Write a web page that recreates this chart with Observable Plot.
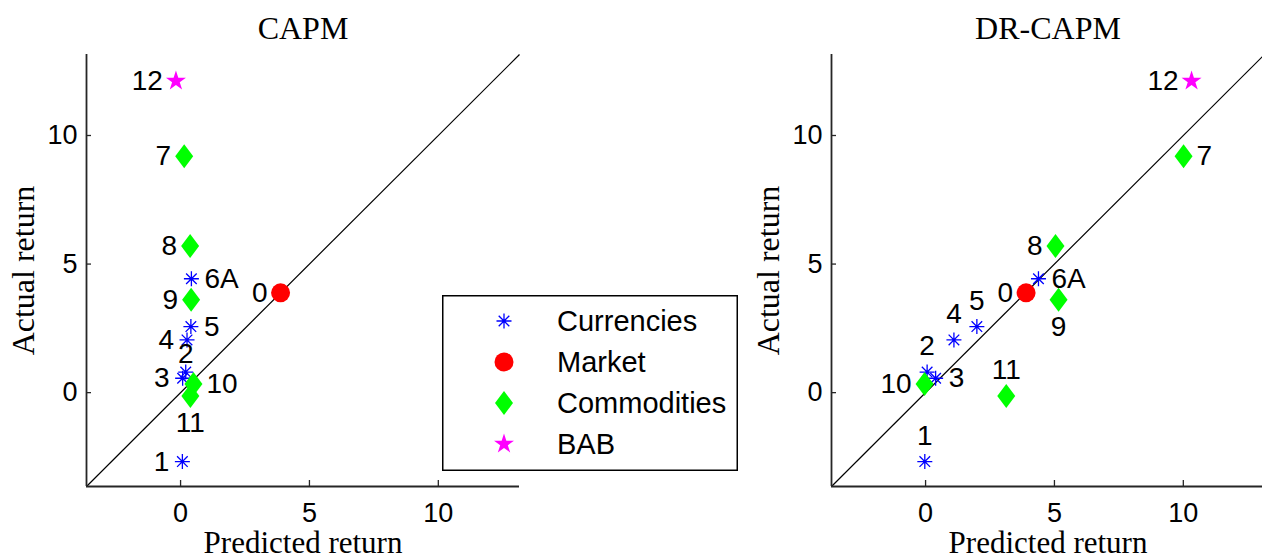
<!DOCTYPE html>
<html><head><meta charset="utf-8">
<script src="https://cdn.jsdelivr.net/npm/d3@7"></script>
<script src="https://cdn.jsdelivr.net/npm/@observablehq/plot@0.6"></script>
<style>
html,body{margin:0;padding:0;background:#fff;overflow:hidden;width:1262px;height:559px;}
#wrap{position:relative;width:1262px;height:559px;overflow:hidden;background:#fff;}
.panel{position:absolute;top:0;}
#legend{position:absolute;left:442px;top:295px;}
</style></head><body><div id="wrap"></div>
<script>
// ---- data ----
const labels = ["0","1","2","3","4","5","6A","7","8","9","10","11","12"];
const groups = ["Market","Currencies","Currencies","Currencies","Currencies","Currencies","Currencies",
                "Commodities","Commodities","Commodities","Commodities","Commodities","BAB"];
const actualReturn = [3.88, -2.68, 0.80, 0.56, 2.05, 2.57, 4.43, 9.19, 5.70, 3.61, 0.34, -0.13, 12.12];
const predictedCAPM = [3.88, 0.07, 0.20, 0.08, 0.25, 0.40, 0.42, 0.14, 0.37, 0.41, 0.50, 0.38, -0.18];
const predictedDR   = [3.90, -0.03, 0.06, 0.39, 1.10, 1.99, 4.38, 10.01, 5.04, 5.16, -0.04, 3.13, 10.32];
const legendOrder = ["Currencies","Market","Commodities","BAB"];
const axisTicks = [0, 5, 10];
const titles = ["CAPM", "DR-CAPM"];
const xLabel = "Predicted return";
const yLabel = "Actual return";

// ---- label placement (style) ----
const placeCAPM = {"0":"left","1":"left","2":"above2","3":"left","4":"left","5":"right","6A":"right",
  "7":"left","8":"left","9":"left","10":"right","11":"below","12":"left"};
const placeDR = {"0":"left","1":"above","2":"above","3":"right","4":"above","5":"above","6A":"right",
  "7":"right","8":"left","9":"below","10":"left","11":"above","12":"left"};
const offsets = {left:{dx:-13,dy:0,anchor:"end"}, right:{dx:13,dy:0,anchor:"start"},
  above:{dx:0,dy:-26,anchor:"middle"}, above2:{dx:0,dy:-18,anchor:"middle"}, below:{dx:0,dy:27,anchor:"middle"}};

// ---- symbols ----
const asteriskSym = {draw(ctx, size){const r=Math.sqrt(size/Math.PI), d=r*Math.SQRT1_2;
  ctx.moveTo(-r,0);ctx.lineTo(r,0);ctx.moveTo(0,-r);ctx.lineTo(0,r);
  ctx.moveTo(-d,-d);ctx.lineTo(d,d);ctx.moveTo(-d,d);ctx.lineTo(d,-d);}};
const diamondSym = {draw(ctx,size){const r=Math.sqrt(size/Math.PI), w=r*0.75;
  ctx.moveTo(0,-r);ctx.lineTo(w,0);ctx.lineTo(0,r);ctx.lineTo(-w,0);ctx.closePath();}};
const starSym = {draw(ctx,size){const R=Math.sqrt(size/Math.PI), ri=R*0.382;
  for(let k=0;k<10;k++){const a=-Math.PI/2+k*Math.PI/5, rr=k%2?ri:R;
    const px=rr*Math.cos(a), py=rr*Math.sin(a); if(k) ctx.lineTo(px,py); else ctx.moveTo(px,py);} ctx.closePath();}};
const circleSym = {draw(ctx,size){const r=Math.sqrt(size/Math.PI); ctx.moveTo(r,0); ctx.arc(0,0,r,0,2*Math.PI);}};

const groupStyle = {
  Currencies: {symbol: asteriskSym, r: 7.5, fill: "none", stroke: "#0000ff", strokeWidth: 1.3},
  Market: {symbol: circleSym, r: 9.5, fill: "#ff0000", stroke: "none", strokeWidth: 0},
  Commodities: {symbol: diamondSym, r: 12, fill: "#00ff00", stroke: "none", strokeWidth: 0},
  BAB: {symbol: starSym, r: 10.5, fill: "#ff00ff", stroke: "none", strokeWidth: 0}
};

const dom = [-3.65, 13.15];
const SANS = "'Liberation Sans', Arial, Helvetica, sans-serif";
const SERIF = "'Liberation Serif', 'Times New Roman', serif";
const W = 540, ML = 86, MR = 21, MT = 54, MB = 73, H = 559;
const FW = W - ML - MR, FH = H - MT - MB;

function panel(title, predicted, place) {
  const data = labels.map((l, i) => ({label: l, group: groups[i], x: predicted[i], y: actualReturn[i]}));
  const dotMarks = legendOrder.map(g => {
    const s = groupStyle[g];
    return Plot.dot(data.filter(d => d.group === g), {x: "x", y: "y", symbol: () => s.symbol, r: s.r,
      fill: s.fill, stroke: s.stroke, strokeWidth: s.strokeWidth});
  });
  const textMarks = Object.keys(offsets).map(k => {
    const o = offsets[k];
    return Plot.text(data.filter(d => place[d.label] === k), {x: "x", y: "y", text: "label",
      dx: o.dx, dy: o.dy, textAnchor: o.anchor, lineAnchor: "middle", fontSize: 28, fontFamily: SANS, fill: "#000"});
  });
  return Plot.plot({
    width: W, height: H, marginLeft: ML, marginRight: MR, marginTop: MT, marginBottom: MB,
    x: {domain: dom, axis: null},
    y: {domain: dom, axis: null},
    symbol: {type: "identity"},
    style: {background: "transparent", overflow: "visible"},
    marks: [
      Plot.link([{x1: dom[0], y1: dom[0], x2: dom[1], y2: dom[1]}], {x1: "x1", y1: "y1", x2: "x2", y2: "y2", stroke: "#000", strokeWidth: 1.2}),
      Plot.ruleX([dom[0]], {stroke: "#262626", strokeWidth: 1.8}),
      Plot.ruleY([dom[0]], {stroke: "#262626", strokeWidth: 1.8}),
      Plot.tickY(axisTicks, {y: d => d, insetRight: FW - 5, stroke: "#262626", strokeWidth: 1.3}),
      Plot.tickX(axisTicks, {x: d => d, insetTop: FH - 6, stroke: "#262626", strokeWidth: 1.3}),
      Plot.axisX(axisTicks, {tickSize: 0, tickPadding: 16, fontSize: 27, fontFamily: SANS, label: null, fill: "#000"}),
      Plot.axisY(axisTicks, {tickSize: 0, tickPadding: 9, fontSize: 27, fontFamily: SANS, label: null, fill: "#000"}),
      Plot.text([title], {frameAnchor: "top", dy: -26, lineAnchor: "middle", textAnchor: "middle", fontSize: 32, fontFamily: SERIF, fill: "#000"}),
      Plot.text([xLabel], {frameAnchor: "bottom", dy: 57, lineAnchor: "middle", textAnchor: "middle", fontSize: 31, fontFamily: SERIF, fill: "#000"}),
      Plot.text([yLabel], {frameAnchor: "left", dx: -63, rotate: -90, lineAnchor: "middle", textAnchor: "middle", fontSize: 32, fontFamily: SERIF, fill: "#000"}),
      ...dotMarks,
      ...textMarks
    ]
  });
}

const wrap = document.getElementById("wrap");
const p1 = panel(titles[0], predictedCAPM, placeCAPM);
p1.classList.add("panel"); p1.style.left = "0px";
const p2 = panel(titles[1], predictedDR, placeDR);
p2.classList.add("panel"); p2.style.left = "745px";
wrap.appendChild(p1); wrap.appendChild(p2);

// ---- legend ----
const LW = 296, LH = 176;
const leg = d3.create("svg").attr("id", "legend").attr("width", LW).attr("height", LH);
leg.append("rect").attr("x", 0.75).attr("y", 0.75).attr("width", LW - 1.5).attr("height", LH - 1.5)
  .attr("fill", "#fff").attr("stroke", "#000").attr("stroke-width", 1.5);
const rowY = [26, 67, 108, 149];
legendOrder.forEach((g, i) => {
  const s = groupStyle[g];
  leg.append("path").attr("transform", `translate(62,${rowY[i]})`)
    .attr("d", d3.symbol(s.symbol, Math.PI * s.r * s.r)())
    .attr("fill", s.fill).attr("stroke", s.stroke).attr("stroke-width", s.strokeWidth);
  leg.append("text").attr("x", 115).attr("y", rowY[i]).attr("dy", "0.35em")
    .attr("font-family", SANS).attr("font-size", 29).attr("fill", "#000").text(g);
});
wrap.appendChild(leg.node());
</script></body></html>
